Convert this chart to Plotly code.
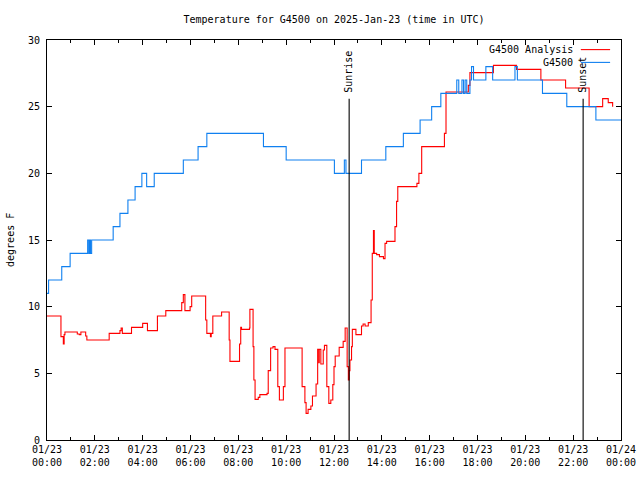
import plotly.graph_objects as go
import pandas as pd

DAY = "2025-01-23"

# G4500 observed (step series)
obs_times = ["00:00","00:04","00:37","00:58","01:42","01:45","01:47","01:49","01:52","02:46",
             "03:03","03:23","03:41","03:58","04:10","04:29","05:42","06:19","06:41","09:03",
             "10:00","12:01","12:26","12:30","13:09","14:10","14:54","15:36","16:05","16:28",
             "17:08","17:13","17:21","17:25","17:29","17:33","17:41","17:45","17:50","18:21",
             "18:38","19:34","19:40","20:43","21:44","22:57","24:00"]
obs_vals = [11,12,13,14,15,14,15,14,15,16,
            17,18,19,20,19,20,21,22,23,22,
            21,20,21,20,21,22,23,24,25,26,
            27,26,27,26,27,26,27,28,27,28,
            27,28,27,26,25,24,24]

# G4500 Analysis
ana_times = ["00:00","00:35","00:41","00:43","00:45","01:16","01:21","01:25","01:37","01:40",
             "02:36","03:03","03:06","03:09","03:32","04:00","04:12","04:37","04:58","05:38",
             "05:42","05:46","05:59","06:03","06:38","06:41","06:50","06:52","06:56","07:18",
             "07:37","07:39","08:03","08:06","08:08","08:28","08:29","08:37","08:39","08:42",
             "08:50","08:54","09:12","09:15","09:21","09:27","09:32","09:39","09:43","09:53",
             "09:57","10:40","10:47","10:50","10:55","11:02","11:06","11:15","11:19","11:22",
             "11:23","11:27","11:33","11:36","11:42","11:47","11:52","11:57","12:00","12:03",
             "12:13","12:23","12:28","12:33","12:36","12:38","12:40","12:44","12:46","12:55",
             "13:09","13:13","13:18","13:26","13:33","13:36","13:39","13:41","13:47","13:54",
             "14:04","14:08","14:12","14:33","14:37","14:40","15:28","15:33","15:40","16:37",
             "16:41","17:37","17:41","18:40","19:38","20:39","21:41","22:40","23:14","23:22",
             "23:28","23:39"]
ana_vals = [9.3,7.75,7.2,7.9,8.1,7.95,7.9,8.1,7.8,7.5,
            8.0,8.2,8.4,8.0,8.45,8.75,8.2,9.3,9.7,10.3,
            10.9,9.7,10.0,10.8,9.0,8.0,7.75,8.0,9.3,9.6,
            7.5,5.9,7.2,8.45,8.3,8.4,9.8,7.0,4.5,3.05,
            3.2,3.4,3.5,5.2,6.9,7.0,6.8,4.0,3.0,4.0,
            6.9,4.0,2.8,2.0,2.3,2.55,3.3,4.2,6.8,5.8,
            6.8,5.7,6.75,7.1,4.0,2.75,3.0,4.15,5.5,6.3,
            6.95,7.4,8.4,5.5,4.5,5.2,6.0,7.0,8.3,7.9,
            8.55,8.7,8.55,8.8,10.5,14.0,15.7,14.0,13.9,13.75,
            13.6,14.75,14.9,16.0,17.9,19.0,19.25,20.0,22.0,23.0,
            26.1,26.6,27.55,28.1,27.8,27.0,26.4,25.0,25.6,25.6,
            25.3,25.0]

sun_times = ["12:38", "22:25"]
sun_labels = ["Sunrise", "Sunset"]
sun_top = 25.6

tick_hours = list(range(0, 25, 2))
tick_text = [("01/24" if h == 24 else "01/23") + "<br>" + "%02d:00" % (h % 24) for h in tick_hours]

base = pd.Timestamp(DAY)


def ts(hhmm):
    h, m = hhmm.split(":")
    return base + pd.Timedelta(hours=int(h), minutes=int(m))


FONT = "DejaVu Sans Mono"
RED = "#ff0000"
BLUE = "#1080f0"

fig = go.Figure()
fig.add_trace(go.Scatter(x=[ts(t) for t in ana_times], y=ana_vals, mode="lines",
                         line=dict(color=RED, width=1.1, shape="hv"), name="G4500 Analysis"))
fig.add_trace(go.Scatter(x=[ts(t) for t in obs_times], y=obs_vals, mode="lines",
                         line=dict(color=BLUE, width=1.1, shape="hv"), name="G4500"))

for t, lab in zip(sun_times, sun_labels):
    fig.add_shape(type="line", xref="x", yref="y", x0=ts(t), x1=ts(t), y0=0, y1=sun_top,
                  line=dict(color="black", width=1.1))
    fig.add_annotation(x=ts(t), y=sun_top + 0.3, xref="x", yref="y", text=lab, textangle=-90,
                       showarrow=False, xanchor="center", yanchor="bottom",
                       font=dict(family=FONT, size=10, color="black"))

# legend (gnuplot-style: text right, sample line)
leg = [("G4500 Analysis", RED, 0.976), ("G4500", BLUE, 0.944)]
for name, col, yp in leg:
    fig.add_annotation(x=0.920, y=yp, xref="paper", yref="paper", text=name, showarrow=False,
                       xanchor="right", yanchor="middle", font=dict(family=FONT, size=10, color="black"))
    fig.add_shape(type="line", xref="paper", yref="paper", x0=0.930, x1=0.981, y0=yp, y1=yp,
                  line=dict(color=col, width=1.1))

fig.add_annotation(x=-0.0645, y=0.5, xref="paper", yref="paper", text="degrees F", textangle=-90,
                   showarrow=False, xanchor="center", yanchor="middle",
                   font=dict(family=FONT, size=10, color="black"))

fig.update_layout(
    width=640, height=480,
    margin=dict(l=47, r=19, t=40, b=40, autoexpand=False),
    paper_bgcolor="white", plot_bgcolor="white",
    showlegend=False,
    font=dict(family=FONT, size=10, color="black"),
    title=dict(text="Temperature for G4500 on 2025-Jan-23 (time in UTC)", x=0.5, xref="paper",
               y=1 - 19 / 480, yref="container", xanchor="center", yanchor="middle",
               font=dict(family=FONT, size=10, color="black")),
)
fig.update_xaxes(
    range=[base, base + pd.Timedelta(hours=24)], automargin=False,
    tickmode="array", tickvals=[base + pd.Timedelta(hours=h) for h in tick_hours], ticktext=tick_text,
    ticks="inside", ticklen=5, tickcolor="black", showline=True, linecolor="black", linewidth=1,
    mirror="ticks", showgrid=False, zeroline=False,
    minor=dict(dtick=3600000, ticks="inside", ticklen=3, tickcolor="black", showgrid=False),
    tickfont=dict(family=FONT, size=10, color="black"),
)
fig.update_yaxes(
    range=[0, 30], tickvals=[0, 5, 10, 15, 20, 25, 30], automargin=False,
    ticks="inside", ticklen=5, tickcolor="black", showline=True, linecolor="black", linewidth=1,
    mirror="ticks", showgrid=False, zeroline=False, ticklabelstandoff=4,
    tickfont=dict(family=FONT, size=10, color="black"),
)

fig.write_html("out.html")
